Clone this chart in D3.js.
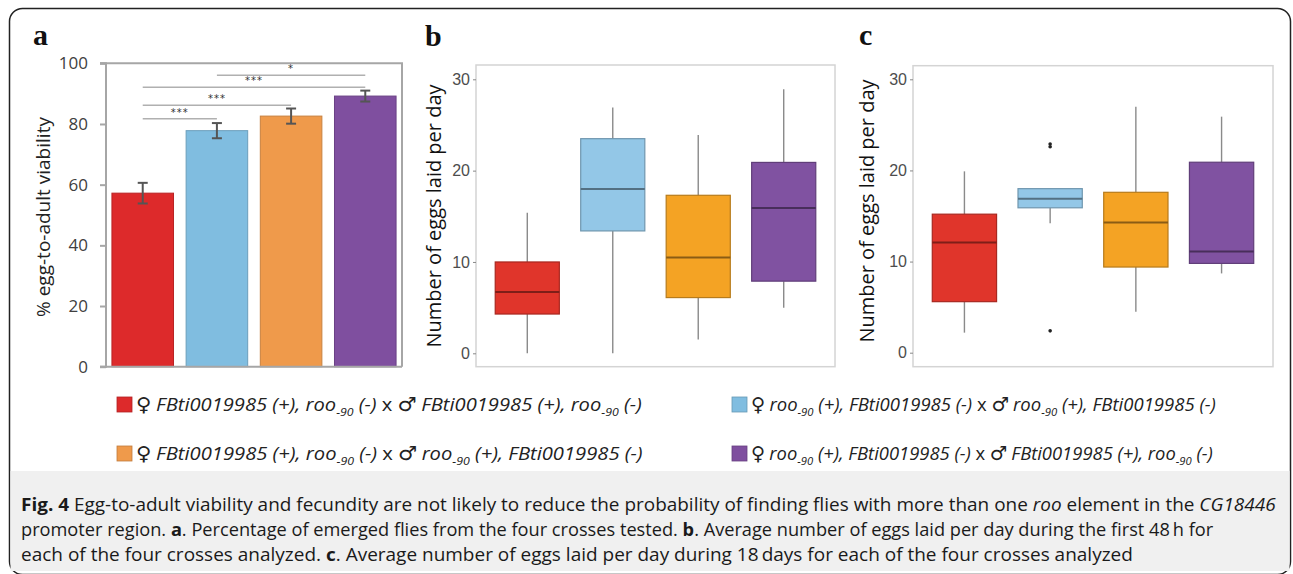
<!DOCTYPE html>
<html>
<head>
<meta charset="utf-8">
<script src="https://cdn.jsdelivr.net/npm/d3@7"></script>
<style>
  html, body { margin: 0; padding: 0; background: #fff; }
  svg { display: block; }
</style>
</head>
<body>
<svg id="fig" width="1293" height="574"></svg>
<script>
// Fig. 4 - viability bars (a) and fecundity boxplots (b, c) for four crosses.

// crosses, in plotting order
const crosses = ['red', 'blue', 'orange', 'purple'];
const barColors = ['#dd2a2b', '#80bde0', '#ef9a4b', '#7f4f9f'];
const boxColors = ['#e0352b', '#93c7e7', '#f4a324', '#8052a1'];

// panel a: % egg-to-adult viability
const viability = [57.2, 77.8, 82.6, 89.2];
const viabilityErr = [3.4, 2.5, 2.5, 1.8];
const viabilityTicks = [0, 20, 40, 60, 80, 100];
// significance brackets: from, to, label, height in % units
const sigFrom = [0, 0, 0, 1];
const sigTo = [1, 2, 3, 3];
const sigLabel = ['***', '***', '***', '*'];
const sigLevel = [81.7, 86.2, 92.1, 96.1];

// panel b: eggs per day, first 48 h
const fecB_min = [0, 0, 1.5, 5.0];
const fecB_q1 = [4.3, 13.4, 6.1, 7.9];
const fecB_med = [6.7, 18.0, 10.5, 15.9];
const fecB_q3 = [10.0, 23.5, 17.3, 20.9];
const fecB_max = [15.4, 26.9, 23.9, 28.9];

// panel c: eggs per day, 18 days
const fecC_min = [2.2, 14.2, 4.5, 8.7];
const fecC_q1 = [5.6, 15.9, 9.4, 9.8];
const fecC_med = [12.1, 16.9, 14.3, 11.1];
const fecC_q3 = [15.2, 18.0, 17.6, 20.9];
const fecC_max = [19.9, 18.0, 27.0, 25.9];
const fecC_out = [[], [22.6, 22.9, 2.4], [], []];

const eggTicks = [0, 10, 20, 30];

// legend: female / male genotype per cross (0 = FBti+, 1 = roo+)
const legendFemale = [0, 1, 0, 1];
const legendMale = [0, 1, 1, 0];

const svg = d3.select('#fig');

// outer frame of the figure
svg.append('rect')
  .attr('x', 9.5).attr('y', 8.5)
  .attr('width', 1281).attr('height', 566)
  .attr('rx', 13)
  .attr('fill', '#fff')
  .attr('stroke', '#222')
  .attr('stroke-width', 1.5);

// caption background
svg.append('rect')
  .attr('x', 10.5).attr('y', 471)
  .attr('width', 1279).attr('height', 100)
  .attr('fill', '#f0f0f0');

// panel letters
[['a', 33, 45], ['b', 425, 46], ['c', 859, 45]].forEach(([t, x, y]) => {
  svg.append('text')
    .attr('x', x).attr('y', y)
    .attr('font-family', '"Liberation Serif", serif')
    .attr('font-weight', 'bold')
    .attr('font-size', 30)
    .attr('fill', '#111')
    .text(t);
});

// ---------- panel a ----------
function drawBars() {
  const g = svg.append('g');
  const y = d3.scaleLinear().domain([0, 100]).range([366.7, 63.3]);
  const x = d3.scaleBand().domain(d3.range(crosses.length))
    .range([106, 402]).paddingInner(0.17).paddingOuter(0.08);

  // plot frame (top + right)
  g.append('path')
    .attr('d', `M100,${y(100)} H402 V${y(0)}`)
    .attr('fill', 'none').attr('stroke', '#a6a6a6').attr('stroke-width', 2);

  g.selectAll('rect.bar')
    .data(viability)
    .join('rect')
    .attr('class', 'bar')
    .attr('x', (d, i) => x(i))
    .attr('y', d => y(d))
    .attr('width', x.bandwidth())
    .attr('height', d => y(0) - y(d))
    .attr('fill', (d, i) => barColors[i])
    .attr('stroke', (d, i) => d3.color(barColors[i]).darker(0.5))
    .attr('stroke-width', 1);

  // error bars
  viability.forEach((v, i) => {
    const cx = x(i) + x.bandwidth() / 2;
    const lo = y(v - viabilityErr[i]), hi = y(v + viabilityErr[i]);
    const eb = g.append('g').attr('stroke', '#555').attr('stroke-width', 2);
    eb.append('line').attr('x1', cx).attr('x2', cx).attr('y1', lo).attr('y2', hi);
    eb.append('line').attr('x1', cx - 5).attr('x2', cx + 5).attr('y1', lo).attr('y2', lo);
    eb.append('line').attr('x1', cx - 5).attr('x2', cx + 5).attr('y1', hi).attr('y2', hi);
  });

  // left axis
  const axis = g.append('g').attr('transform', 'translate(106,0)')
    .call(d3.axisLeft(y).tickValues(viabilityTicks).tickSize(6).tickPadding(12));
  axis.select('.domain').attr('stroke', '#a6a6a6').attr('stroke-width', 2)
    .attr('d', `M-6,${y(100)} H0 V${y(0)} H-6`);
  axis.selectAll('.tick line').attr('stroke', '#a6a6a6').attr('stroke-width', 2);
  axis.selectAll('.tick text')
    .attr('font-family', '"Open Sans", sans-serif')
    .attr('font-size', 17).attr('fill', '#404040');

  // bottom axis line
  g.append('line')
    .attr('x1', 100).attr('x2', 402).attr('y1', y(0)).attr('y2', y(0))
    .attr('stroke', '#a6a6a6').attr('stroke-width', 2);

  // significance brackets
  sigFrom.forEach((f, k) => {
    const x1 = x(f) + x.bandwidth() / 2;
    const x2 = x(sigTo[k]) + x.bandwidth() / 2;
    const yy = y(sigLevel[k]);
    g.append('line')
      .attr('x1', x1).attr('x2', x2).attr('y1', yy).attr('y2', yy)
      .attr('stroke', '#b0b0b0').attr('stroke-width', 1.5);
    g.append('text')
      .attr('x', (x1 + x2) / 2).attr('y', yy - 3)
      .attr('text-anchor', 'middle')
      .attr('font-family', '"DejaVu Sans", sans-serif')
      .attr('font-size', 10).attr('letter-spacing', 1).attr('fill', '#333')
      .text(sigLabel[k]);
  });

  g.append('text')
    .attr('transform', `translate(50,${(y(0) + y(100)) / 2 + 2}) rotate(-90)`)
    .attr('text-anchor', 'middle')
    .attr('font-family', '"Open Sans", sans-serif')
    .attr('font-size', 19).attr('fill', '#222')
    .text('% egg-to-adult viability');
}

// ---------- panels b, c ----------
function drawBoxes(opts) {
  const g = svg.append('g');
  const y = d3.scaleLinear().domain([0, 30]).range([opts.y0, opts.y30]);
  const x = d3.scalePoint().domain(d3.range(crosses.length))
    .range([opts.left, opts.right]).padding(0.6);
  const half = x.step() * 0.375;

  g.append('rect')
    .attr('x', opts.left).attr('y', opts.top)
    .attr('width', opts.right - opts.left).attr('height', opts.bottom - opts.top)
    .attr('fill', '#fff').attr('stroke', '#d4d4d4').attr('stroke-width', 1.5);

  const axis = g.append('g').attr('transform', `translate(${opts.left},0)`)
    .call(d3.axisLeft(y).tickValues(eggTicks).tickSize(3).tickPadding(3));
  axis.select('.domain').remove();
  axis.selectAll('.tick line').attr('stroke', '#888');
  axis.selectAll('.tick text')
    .attr('font-family', '"Liberation Sans", Arial, sans-serif')
    .attr('font-size', 16).attr('fill', '#4d4d4d');

  crosses.forEach((c, i) => {
    const cx = x(i);
    const col = d3.color(boxColors[i]);
    // whiskers
    g.append('line').attr('x1', cx).attr('x2', cx)
      .attr('y1', y(opts.max[i])).attr('y2', y(opts.q3[i]))
      .attr('stroke', '#8a8a8a').attr('stroke-width', 1.4);
    g.append('line').attr('x1', cx).attr('x2', cx)
      .attr('y1', y(opts.q1[i])).attr('y2', y(opts.min[i]))
      .attr('stroke', '#8a8a8a').attr('stroke-width', 1.4);
    // box
    g.append('rect')
      .attr('x', cx - half).attr('y', y(opts.q3[i]))
      .attr('width', half * 2).attr('height', y(opts.q1[i]) - y(opts.q3[i]))
      .attr('fill', col)
      .attr('stroke', col.darker(0.8)).attr('stroke-width', 1.2);
    // median
    g.append('line')
      .attr('x1', cx - half).attr('x2', cx + half)
      .attr('y1', y(opts.med[i])).attr('y2', y(opts.med[i]))
      .attr('stroke', col.darker(1.6)).attr('stroke-width', 2);
    // outliers
    (opts.out ? opts.out[i] : []).forEach(v => {
      g.append('circle').attr('cx', cx).attr('cy', y(v)).attr('r', 1.8).attr('fill', '#222');
    });
  });

  g.append('text')
    .attr('transform', `translate(${opts.titleX},${opts.titleY}) rotate(-90)`)
    .attr('text-anchor', 'middle')
    .attr('font-family', '"Open Sans", sans-serif')
    .attr('font-size', 20).attr('fill', '#111')
    .text('Number of eggs laid per day');
}

drawBars();
drawBoxes({
  left: 476, right: 835, top: 65, bottom: 366.7, y0: 353.3, y30: 79.3,
  min: fecB_min, q1: fecB_q1, med: fecB_med, q3: fecB_q3, max: fecB_max,
  titleX: 441, titleY: 216
});
drawBoxes({
  left: 913, right: 1273, top: 65.7, bottom: 366.7, y0: 352.7, y30: 79.3,
  min: fecC_min, q1: fecC_q1, med: fecC_med, q3: fecC_q3, max: fecC_max, out: fecC_out,
  titleX: 874, titleY: 211
});

// ---------- legend ----------
// genotype tspans; 0 = FBti0019985 (+), roo-90 (-); 1 = roo-90 (+), FBti0019985 (-)
function genotype(t, which) {
  const sub = () => {
    t.append('tspan').attr('dy', 5).attr('font-size', 11).text('-90');
    return t.append('tspan').attr('dy', -5);
  };
  if (which === 0) {
    t.append('tspan').text('FBti0019985 (+), roo');
    sub().text(' (-)');
  } else {
    t.append('tspan').text('roo');
    sub().text(' (+), FBti0019985 (-)');
  }
}

function symbol(t, s) {
  t.append('tspan')
    .attr('font-family', '"DejaVu Sans", sans-serif')
    .attr('font-style', 'normal')
    .attr('font-size', 19)
    .text(s);
}

// fit a text element into a target width by horizontal scaling
function fitWidth(t, x, y, w) {
  const box = t.node().getBBox();
  t.attr('transform', `translate(${x},${y}) scale(${w / box.width},1)`);
}

const legX = [117, 732];
const legY = [411, 460];
const legW = [506, 465, 507, 462];
crosses.forEach((c, i) => {
  const col = i % 2, row = Math.floor(i / 2);
  svg.append('rect')
    .attr('x', legX[col]).attr('y', legY[row] - 14)
    .attr('width', 15).attr('height', 15)
    .attr('fill', barColors[i])
    .attr('stroke', d3.color(barColors[i]).darker(0.6)).attr('stroke-width', 0.8);
  const t = svg.append('text')
    .attr('font-family', '"Open Sans", sans-serif')
    .attr('font-size', 18).attr('fill', '#222');
  symbol(t, '♀');
  const gi = t.append('tspan').attr('font-style', 'italic').attr('dx', 4);
  genotype(gi, legendFemale[i]);
  t.append('tspan').attr('font-style', 'normal').text(' x ');
  symbol(t, '♂');
  const gm = t.append('tspan').attr('font-style', 'italic').attr('dx', 4);
  genotype(gm, legendMale[i]);
  fitWidth(t, legX[col] + 19, legY[row], legW[i]);
});

// ---------- caption ----------
const captionLines = [
  [['b', 'Fig. 4'], ['n', ' Egg-to-adult viability and fecundity are not likely to reduce the probability of finding flies with more than one '], ['i', 'roo'], ['n', ' element in the '], ['i', 'CG18446']],
  [['n', 'promoter region. '], ['b', 'a'], ['n', '. Percentage of emerged flies from the four crosses tested. '], ['b', 'b'], ['n', '. Average number of eggs laid per day during the first 48\u2009h for']],
  [['n', 'each of the four crosses analyzed. '], ['b', 'c'], ['n', '. Average number of eggs laid per day during 18\u2009days for each of the four crosses analyzed']]
];
const captionY = [511, 536, 561];
const captionW = [1256, 1193, 1113];

captionLines.forEach((parts, k) => {
  const t = svg.append('text')
    .attr('font-family', '"Open Sans", sans-serif')
    .attr('font-size', 17.5).attr('fill', '#1a1a1a');
  parts.forEach(([s, txt]) => {
    t.append('tspan')
      .attr('font-weight', s === 'b' ? 'bold' : 'normal')
      .attr('font-style', s === 'i' ? 'italic' : 'normal')
      .text(txt);
  });
  fitWidth(t, 21, captionY[k], captionW[k]);
});
</script>
</body>
</html>
